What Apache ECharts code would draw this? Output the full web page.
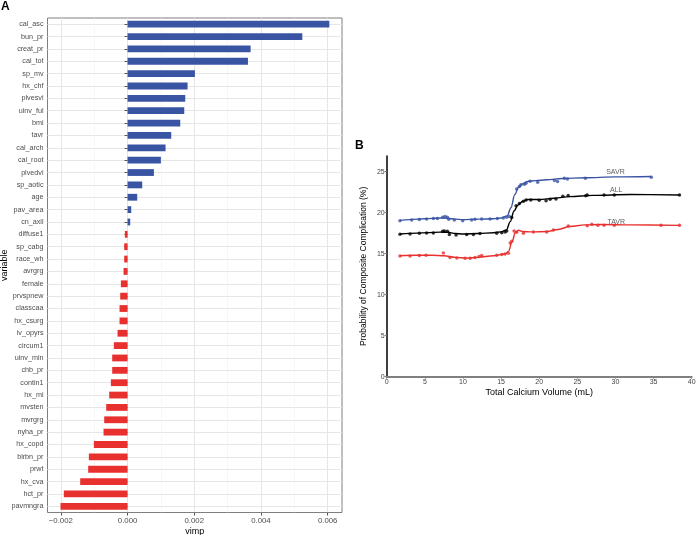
<!DOCTYPE html>
<html><head><meta charset="utf-8">
<script src="https://cdn.jsdelivr.net/npm/echarts@6/dist/echarts.min.js"></script>
<style>html,body{margin:0;padding:0;background:#fff}#c{width:696px;height:535px}</style>
</head><body><div id="c"></div>
<script>
const variables = ['cal_asc','bun_pr','creat_pr','cal_tot','sp_mv','hx_chf','plvesvi','uinv_ful','bmi','tavr','cal_arch','cal_root','plvedvi','sp_aotic','age','pav_area','cn_axil','diffuse1','sp_cabg','race_wh','avrgrg','female','prvspnew','classcaa','hx_csurg','iv_opyrs','circum1','uinv_min','chb_pr','contin1','hx_mi','mvsten','mvrgrg','nyha_pr','hx_copd','blrbn_pr','prwt','hx_cva','hct_pr','pavmngra'];
const vimp = [0.00605,0.00524,0.00369,0.00361,0.00202,0.00180,0.00173,0.00170,0.00158,0.00131,0.00114,0.00100,0.00079,0.00044,0.00029,0.00011,0.00008,-0.00008,-0.00010,-0.00010,-0.00012,-0.00020,-0.00022,-0.00024,-0.00024,-0.00030,-0.00041,-0.00046,-0.00046,-0.00050,-0.00055,-0.00064,-0.00070,-0.00072,-0.00101,-0.00116,-0.00118,-0.00142,-0.00191,-0.00201];
const vimpTicks = [-0.002,0,0.002,0.004,0.006];
const vimpMinor = [-0.001,0.001,0.003,0.005];

const savrPts = [[1.74,19.02],[3.28,19.1],[4.28,19.15],[5.24,19.23],[6.12,19.27],[6.64,19.27],[7.34,19.44],[7.65,19.52],[7.96,19.44],[8.13,19.2],[8.87,19.1],[9.97,19.02],[11.14,19.1],[11.58,19.2],[12.46,19.23],[13.55,19.23],[14.51,19.27],[15.3,19.35],[15.74,19.44],[16.09,19.52],[17.04,22.89],[17.4,23.17],[17.6,23.4],[18.05,23.46],[18.27,23.58],[18.8,23.82],[19.8,23.7],[22.0,23.9],[22.4,23.8],[23.3,24.2],[23.7,24.1],[26.05,24.2],[34.7,24.3]];
const allPts = [[1.74,17.36],[3.06,17.4],[4.28,17.48],[5.24,17.52],[6.12,17.52],[7.34,17.72],[7.56,17.76],[7.96,17.72],[8.22,17.32],[9.1,17.28],[10.49,17.32],[11.37,17.32],[12.24,17.44],[14.43,17.48],[15.09,17.56],[15.52,17.64],[15.74,17.76],[16.4,19.4],[16.97,20.85],[17.4,21.1],[17.93,21.39],[18.27,21.55],[18.9,21.55],[20.0,21.5],[20.9,21.45],[21.43,21.63],[22.2,21.65],[23.1,22.0],[23.8,22.1],[26.1,22.05],[26.3,22.15],[28.5,22.15],[29.85,22.15],[38.4,22.15]];
const tavrPts = [[1.74,14.72],[3.06,14.72],[4.28,14.76],[5.15,14.8],[7.43,15.09],[8.3,14.52],[9.19,14.48],[10.28,14.43],[10.94,14.43],[11.58,14.52],[12.11,14.64],[12.46,14.76],[14.43,14.8],[15.09,14.88],[15.52,14.96],[15.96,15.04],[16.2,16.3],[16.4,16.5],[16.71,17.77],[17.04,17.6],[17.93,17.48],[19.24,17.64],[20.99,17.64],[21.86,17.88],[23.82,18.37],[26.3,18.41],[26.9,18.57],[27.7,18.45],[28.5,18.45],[29.85,18.45],[35.97,18.45],[38.4,18.45]];

const savrFit = [[1.74,19.05],[3,19.15],[5,19.25],[7,19.35],[8,19.3],[9,19.2],[10,19.15],[12,19.2],[14,19.25],[15,19.35],[15.8,19.6],[16.3,20.6],[16.8,22.2],[17.3,23.1],[17.8,23.5],[18.5,23.8],[19.5,23.9],[21,24.0],[23,24.15],[26,24.25],[30,24.35],[34.7,24.4]];
const allFit = [[1.74,17.4],[4,17.5],[7,17.62],[8,17.6],[9,17.45],[10,17.4],[12,17.45],[14,17.55],[15,17.65],[15.7,17.9],[16.2,18.9],[16.7,20.2],[17.2,20.9],[17.8,21.35],[18.5,21.6],[20,21.6],[22,21.75],[24,21.95],[27,22.1],[32,22.2],[38.4,22.15]];
const tavrFit = [[1.74,14.75],[4,14.8],[6,14.8],[7.5,14.75],[9,14.55],[10.5,14.45],[12,14.55],[14,14.75],[15.5,14.95],[16.0,15.3],[16.4,16.4],[16.9,17.6],[17.3,17.85],[17.8,17.7],[19,17.65],[21,17.7],[22.5,17.95],[24,18.3],[26,18.5],[28,18.55],[32,18.5],[38.4,18.45]];
const curveLabels = [['SAVR',30.0,24.96],['ALL',30.1,22.7],['TAVR',30.1,18.9]];
const probTicks = [0,5,10,15,20,25];

const BLUE = '#3a54a4', RED = '#e8302f', BLACK = '#000000';
const FONT = 'Liberation Sans, Arial, sans-serif';

const chart = echarts.init(document.getElementById('c'), null, {renderer:'canvas'});
const option = {
  animation: false,
  textStyle: {fontFamily: FONT},
  title: [
    {text:'A', left: 1, top: 1, padding: 0, textStyle:{fontSize:12, fontWeight:'bold', color:'#000', fontFamily: FONT}},
    {text:'B', left: 355, top: 140, padding: 0, textStyle:{fontSize:12, fontWeight:'bold', color:'#000', fontFamily: FONT}}
  ],
  grid: [
    {left: 47.5, top: 18, width: 294.5, height: 494.5, show: true, borderColor: '#7f7f7f', borderWidth: 1, backgroundColor: '#fff', containLabel: false, outerBoundsMode: 'none'},
    {left: 386.7, top: 156, width: 305, height: 220.7, containLabel: false, outerBoundsMode: 'none'}
  ],
  xAxis: [
    {gridIndex:0, type:'value', min:-0.0024, max:0.00643, name:'vimp', nameLocation:'middle', nameGap:15, nameMoveOverlap:false,
     nameTextStyle:{fontSize:9, color:'#000', fontFamily: FONT},
     axisLine:{show:false},
     axisTick:{show:true, length:3, lineStyle:{color:'#555'}, customValues: vimpTicks},
     axisLabel:{customValues: vimpTicks, fontSize:7.8, color:'#4d4d4d', margin:4, formatter: v => v.toFixed(3).replace('-','\u2212')},
     splitLine:{show:true, lineStyle:{color:'#e6e6e6', width:1}}
    },
    {gridIndex:0, type:'value', min:-0.0024, max:0.00643, show:true,
     axisLine:{show:false}, axisLabel:{show:false},
     axisTick:{show:false, customValues: vimpMinor},
     splitLine:{show:true, lineStyle:{color:'#f2f2f2', width:0.6}}
    },
    {gridIndex:1, type:'value', min:0, max:40, interval:5, name:'Total Calcium Volume (mL)', nameLocation:'middle', nameGap:11, nameMoveOverlap:false,
     nameTextStyle:{fontSize:9, color:'#000', fontFamily: FONT},
     axisLine:{show:true, onZero:false, lineStyle:{color:'#808080', width:2}},
     axisTick:{show:true, length:2, lineStyle:{color:'#808080'}},
     axisLabel:{fontSize:7, color:'#444', margin:2},
     splitLine:{show:false}
    }
  ],
  yAxis: [
    {gridIndex:0, type:'category', data: variables, inverse:true, name:'variable', nameLocation:'middle', nameGap:38, nameMoveOverlap:false,
     nameTextStyle:{fontSize:9, color:'#000', fontFamily: FONT},
     axisLine:{show:false},
     axisTick:{show:true, alignWithLabel:true, length:3, lineStyle:{color:'#555'}},
     axisLabel:{fontSize:7.2, color:'#4d4d4d', margin:4, interval:0},
     splitLine:{show:true, alignWithLabel:true, interval:0, lineStyle:{color:'#e6e6e6', width:1}}
    },
    {gridIndex:1, type:'value', min:0, max:26.9, name:'Probability of Composite Complication (%)', nameLocation:'middle', nameGap:19, nameMoveOverlap:false,
     nameTextStyle:{fontSize:8.5, color:'#000', fontFamily: FONT},
     axisLine:{show:true, onZero:false, lineStyle:{color:'#000', width:1.5}},
     axisTick:{show:true, length:2, lineStyle:{color:'#808080'}, customValues: probTicks},
     axisLabel:{fontSize:7, color:'#444', margin:2, customValues: probTicks},
     splitLine:{show:false}
    }
  ],
  series: [
    {type:'bar', xAxisIndex:0, yAxisIndex:0, barWidth:'55%',
     data: vimp.map(v => ({value: v, itemStyle:{color: v >= 0 ? BLUE : RED}}))},
    {type:'line', xAxisIndex:2, yAxisIndex:1, data: savrFit, smooth:0.35, smoothMonotone:'x', showSymbol:false, lineStyle:{color:BLUE, width:1.4}},
    {type:'line', xAxisIndex:2, yAxisIndex:1, data: allFit, smooth:0.35, smoothMonotone:'x', showSymbol:false, lineStyle:{color:BLACK, width:1.4}},
    {type:'line', xAxisIndex:2, yAxisIndex:1, data: tavrFit, smooth:0.35, smoothMonotone:'x', showSymbol:false, lineStyle:{color:RED, width:1.4}},
    {type:'scatter', xAxisIndex:2, yAxisIndex:1, data: savrPts, symbolSize:3.5, itemStyle:{color:BLUE}},
    {type:'scatter', xAxisIndex:2, yAxisIndex:1, data: allPts, symbolSize:3.5, itemStyle:{color:BLACK}},
    {type:'scatter', xAxisIndex:2, yAxisIndex:1, data: tavrPts, symbolSize:3.5, itemStyle:{color:RED}},
    {type:'scatter', xAxisIndex:2, yAxisIndex:1, symbolSize:0,
     data: curveLabels.map(d => ({name:d[0], value:[d[1], d[2]]})),
     label:{show:true, position:'inside', formatter: p => p.name, fontSize:7, color:'#333', fontFamily: FONT}}
  ]
};
chart.setOption(option);
</script></body></html>
